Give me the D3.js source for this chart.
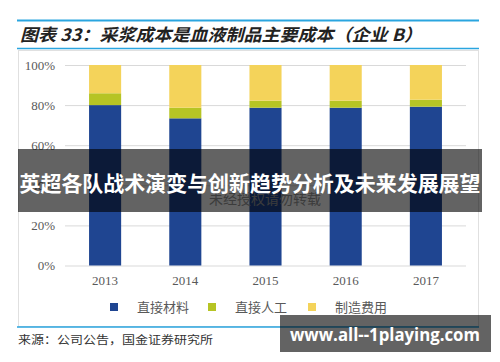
<!DOCTYPE html>
<html><head><meta charset="utf-8">
<script src="https://cdn.jsdelivr.net/npm/d3@7/dist/d3.min.js"></script>
<style>body{margin:0;background:#fff}svg{display:block}</style>
</head><body>
<script>
const years = ["2013","2014","2015","2016","2017"];
const seriesNames = ["直接材料","直接人工","制造费用"];
const material = [80.0, 73.4, 78.7, 78.7, 79.2];
const labor    = [5.9, 5.3, 3.5, 3.5, 3.5];
const overhead = [14.1, 21.3, 17.8, 17.8, 17.3];
const yTicks = [0,20,40,60,80,100];
const colors = ["#1f4591","#b6c424","#f4d35a"];

const W=500,H=362;
const svg=d3.select("body").append("svg").attr("width",W).attr("height",H);
const serif="'Liberation Serif','DejaVu Serif',serif";
const cjk="'Noto Sans CJK SC','Noto Sans',sans-serif";

// title lines
svg.append("line").attr("x1",17).attr("x2",479).attr("y1",20.5).attr("y2",20.5).attr("stroke","#2aa5df").attr("stroke-width",2);
svg.append("line").attr("x1",17).attr("x2",479).attr("y1",48.5).attr("y2",48.5).attr("stroke","#2aa5df").attr("stroke-width",1.5);
svg.append("text").attr("x",20).attr("y",41).attr("font-family",cjk).attr("font-weight","bold").attr("font-style","italic")
  .attr("font-size",17).attr("fill","#222").attr("textLength",402).attr("lengthAdjust","spacingAndGlyphs")
  .text("图表 33：采浆成本是血液制品主要成本（企业 B）");

// chart box
svg.append("rect").attr("x",18.5).attr("y",50.5).attr("width",460).attr("height",276).attr("fill","#fff").attr("stroke","#e0e0e0");

const x=d3.scaleBand().domain(years).range([65,466]).paddingInner(0.6).paddingOuter(0.3);
const y=d3.scaleLinear().domain([0,100]).range([265.5,65]);

const gy=svg.append("g").attr("transform","translate(65,0)")
  .call(d3.axisLeft(y).tickValues(yTicks).tickFormat(d=>d+"%").tickSize(-401).tickPadding(10));
gy.select(".domain").remove();
gy.selectAll(".tick line").attr("stroke","#d9d9d9");
gy.selectAll(".tick text").attr("font-family",serif).attr("font-size",13).attr("fill","#595959");

const gx=svg.append("g").attr("transform","translate(0,265.5)")
  .call(d3.axisBottom(x).tickSize(0).tickPadding(10));
gx.select(".domain").remove();
gx.selectAll(".tick text").attr("font-family",serif).attr("font-size",13).attr("fill","#595959");

const rows=years.map((yr,i)=>({year:yr,"直接材料":material[i],"直接人工":labor[i],"制造费用":overhead[i]}));
const stack=d3.stack().keys(seriesNames)(rows);
svg.append("g").selectAll("g").data(stack).join("g").attr("fill",(d,i)=>colors[i])
  .selectAll("rect").data(d=>d).join("rect")
  .attr("x",d=>x(d.data.year)).attr("width",x.bandwidth())
  .attr("y",d=>y(d[1])).attr("height",d=>y(d[0])-y(d[1]));

// legend
const legX=[110,208,308];
const lg=svg.append("g");
seriesNames.forEach((n,i)=>{
  lg.append("rect").attr("x",legX[i]).attr("y",303).attr("width",8).attr("height",8).attr("fill",colors[i]);
  lg.append("text").attr("x",legX[i]+27).attr("y",312).attr("font-family",cjk).attr("font-size",13).attr("fill","#595959").text(n);
});

// watermark
svg.append("text").attr("x",265).attr("y",204).attr("text-anchor","middle").attr("font-family",cjk).attr("font-size",14)
  .attr("fill","#9a9a9a").text("未经授权请勿转载");

// banner
svg.append("rect").attr("x",18).attr("y",149).attr("width",464).attr("height",63).attr("fill","rgba(0,0,0,0.61)");
svg.append("text").attr("x",250).attr("y",191).attr("text-anchor","middle").attr("font-family",cjk).attr("font-weight","bold")
  .attr("font-size",21).attr("fill","#fff").attr("textLength",461).attr("lengthAdjust","spacingAndGlyphs")
  .text("英超各队战术演变与创新趋势分析及未来发展展望");

// source
svg.append("line").attr("x1",17).attr("x2",479).attr("y1",327).attr("y2",327).attr("stroke","#2aa5df").attr("stroke-width",1.5);
svg.append("text").attr("x",18).attr("y",344).attr("font-family",cjk).attr("font-size",11.5).attr("fill","#333")
  .attr("textLength",195).attr("lengthAdjust","spacingAndGlyphs").text("来源：公司公告，国金证券研究所");

// url box
svg.append("rect").attr("x",280).attr("y",315).attr("width",211).attr("height",37).attr("fill","rgba(0,0,0,0.61)");
svg.append("text").attr("x",290).attr("y",341).attr("font-family","'Open Sans','DejaVu Sans',sans-serif").attr("font-weight","bold")
  .attr("font-size",18).attr("fill","#fff").attr("textLength",190).attr("lengthAdjust","spacingAndGlyphs").text("www.all--1playing.com");
</script>
</body></html>
